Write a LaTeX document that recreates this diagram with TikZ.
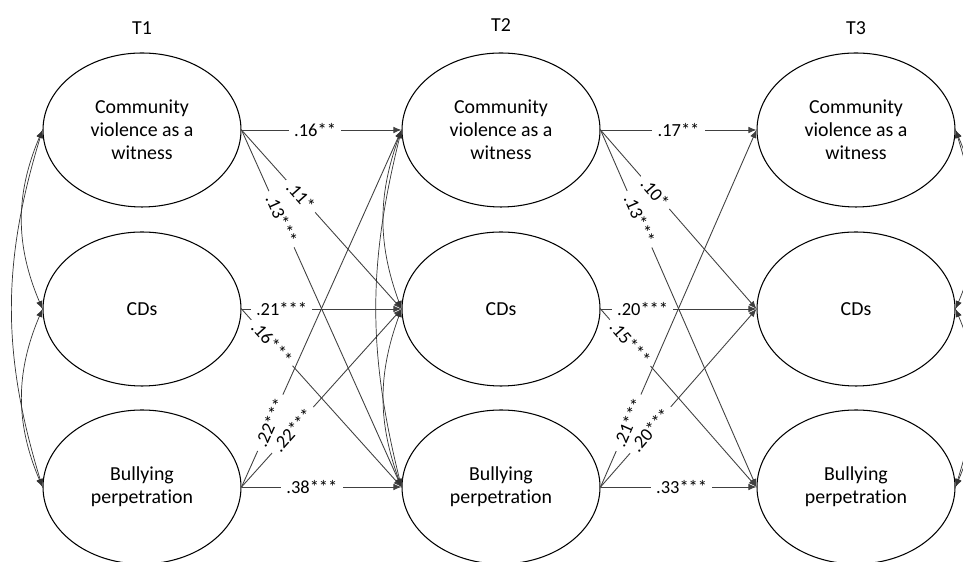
\documentclass[tikz,border=0pt]{standalone}
\usepackage{fontspec}
\setmainfont{Carlito}[Ligatures=NoCommon]
\usetikzlibrary{shapes.geometric,arrows.meta}

\begin{document}
\begin{tikzpicture}[
    lat/.style={draw,ellipse,line width=.6pt,minimum width=3.96cm,minimum height=3.08cm,inner sep=0pt,align=center,font=\fontsize{11.3}{13.1}\selectfont},
    wave/.style={font=\fontsize{11.3}{13.1}\selectfont},
    path/.style={-{Latex[length=1.6mm,width=1.3mm]},black!75,line width=.5pt},
    cov/.style={{Latex[length=1.6mm,width=1.3mm]}-{Latex[length=1.6mm,width=1.3mm]},black!80,line width=.4pt},
    coef/.style={fill=white,text=black,inner xsep=3pt,inner ysep=1pt,sloped,font=\fontsize{10.5}{12}\selectfont}
]
    %\draw[help lines] (0,0) grid (19,11);
    \useasboundingbox (0,0) rectangle (19.26,11.24);
    \node[wave] (w1) at(2.84,10.68) {T1};
    \node[wave] (w2) at(10.02,10.74) {T2};
    \node[wave] (w3) at(17.12,10.68) {T3};
    \node[lat] (t1a) at(2.84,8.64) {Community\\violence as a\\witness};
    \node[lat] (t1b) at(2.84,5.06) {CDs};
    \node[lat] (t1c) at(2.84,1.50) {Bullying\\perpetration};
    \node[lat] (t2a) at(10.02,8.64) {Community\\violence as a\\witness};
    \node[lat] (t2b) at(10.02,5.06) {CDs};
    \node[lat] (t2c) at(10.02,1.50) {Bullying\\perpetration};
    \node[lat] (t3a) at(17.12,8.64) {Community\\violence as a\\witness};
    \node[lat] (t3b) at(17.12,5.06) {CDs};
    \node[lat] (t3c) at(17.12,1.50) {Bullying\\perpetration};
    % T1 -> T2
    \draw[path] (t1a.east) -- node[coef,pos=.46]{.16**} (t2a.west);
    \draw[path] (t1a.east) -- node[coef,pos=.37]{.11*} (t2b.west);
    \draw[path] (t1a.east) -- node[coef,pos=.25]{.13***} (t2c.west);
    \draw[path] (t1b.east) -- node[coef,pos=.25]{.21***} (t2b.west);
    \draw[path] (t1b.east) -- node[coef,pos=.19]{.16***} (t2c.west);
    \draw[path] (t1c.east) -- node[coef,pos=.18]{.22***} (t2a.west);
    \draw[path] (t1c.east) -- node[coef,pos=.32]{.22***} (t2b.west);
    \draw[path] (t1c.east) -- node[coef,pos=.44]{.38***} (t2c.west);
    % T2 -> T3
    \draw[path] (t2a.east) -- node[coef,pos=.5]{.17**} (t3a.west);
    \draw[path] (t2a.east) -- node[coef,pos=.35]{.10*} (t3b.west);
    \draw[path] (t2a.east) -- node[coef,pos=.25]{.13***} (t3c.west);
    \draw[path] (t2b.east) -- node[coef,pos=.27]{.20***} (t3b.west);
    \draw[path] (t2b.east) -- node[coef,pos=.19]{.15***} (t3c.west);
    \draw[path] (t2c.east) -- node[coef,pos=.18]{.21***} (t3a.west);
    \draw[path] (t2c.east) -- node[coef,pos=.32]{.20***} (t3b.west);
    \draw[path] (t2c.east) -- node[coef,pos=.52]{.33***} (t3c.west);
    % covariances
    \draw[cov] (t1a.west) to[bend right=23] (t1b.west);
    \draw[cov] (t1b.west) to[bend right=23] (t1c.west);
    \draw[cov] (t1a.west) to[bend right=17] (t1c.west);
    \draw[cov] (t2a.west) to[bend right=20] (t2b.west);
    \draw[cov] (t2b.west) to[bend right=20] (t2c.west);
    \draw[cov] (t2a.west) to[bend right=14] (t2c.west);
    \draw[cov] (t3a.east) to[bend left=23] (t3b.east);
    \draw[cov] (t3b.east) to[bend left=23] (t3c.east);
    \draw[cov] (t3a.east) to[bend left=17] (t3c.east);
\end{tikzpicture}
\end{document}
